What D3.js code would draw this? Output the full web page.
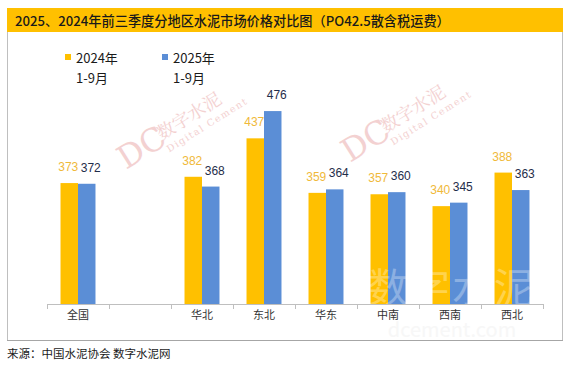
<!DOCTYPE html>
<html><head><meta charset="utf-8">
<script src="https://cdn.jsdelivr.net/npm/d3@7"></script>
<style>body{margin:0;background:#fff;} svg{display:block;font-family:"Noto Sans CJK SC","Noto Sans",sans-serif;}</style>
</head><body>
<svg id="c" width="569" height="365"></svg>
<script>
const categories = ["全国", "", "华北", "东北", "华东", "中南", "西南", "西北"];
const seriesNames = ["2024年\n1-9月", "2025年\n1-9月"];
const values2024 = [373, null, 382, 437, 359, 357, 340, 388];
const values2025 = [372, null, 368, 476, 364, 360, 345, 363];
const titleText = "2025、2024年前三季度分地区水泥市场价格对比图（PO42.5散含税运费）";
const sourceText = "来源：中国水泥协会 数字水泥网";

const svg = d3.select("#c");
const colors = ["#FFC000", "#5B8ED6"];
const labelColors = ["#F0B93A", "#1F2D4A"];

// frame
svg.append("rect").attr("x", 7).attr("y", 8).attr("width", 556).attr("height", 24).attr("fill", "#FFC000");
svg.append("line").attr("x1", 7.5).attr("x2", 7.5).attr("y1", 32).attr("y2", 340).attr("stroke", "#BFBFBF");
svg.append("line").attr("x1", 562.5).attr("x2", 562.5).attr("y1", 32).attr("y2", 340).attr("stroke", "#BFBFBF");
svg.append("line").attr("x1", 7).attr("x2", 563).attr("y1", 340.5).attr("y2", 340.5).attr("stroke", "#A6A6A6");
svg.append("text").attr("x", 15).attr("y", 26).attr("font-size", 13.2).attr("font-weight", 500).attr("fill", "#1a1a1a").text(titleText);

// watermarks
function logo(x, y) {
  const g = svg.append("g").attr("transform", `translate(${x},${y}) rotate(-32)`).attr("fill", "#F2C9C9").attr("opacity", 0.85);
  g.append("text").attr("x", 0).attr("y", 0).attr("font-size", 32).attr("font-family", "DejaVu Serif, serif").text("DC");
  g.append("text").attr("x", 46).attr("y", -6).attr("font-size", 18).attr("font-family", "Noto Serif CJK SC, Noto Sans CJK SC, serif").text("数字水泥");
  g.append("text").attr("x", 46).attr("y", 8).attr("font-size", 9.5).attr("font-family", "DejaVu Serif, serif").attr("letter-spacing", 1.5).text("Digital Cement");
}
logo(126, 170);
logo(350, 163);

const x0 = d3.scaleBand().domain(categories.map((c, i) => i)).range([47, 543]).padding(0);
const x1 = d3.scaleBand().domain([0, 1]).range([x0.bandwidth() * 0.218, x0.bandwidth() * 0.782]).padding(0);
const y = d3.scaleLinear().domain([200, 600]).range([304, 24.4]);

const series = [values2024, values2025];
const dx = [-1, 4];
series.forEach((vals, s) => {
  const data = vals.map((v, i) => ({i, v})).filter(d => d.v != null);
  svg.append("g").selectAll("rect").data(data).join("rect")
    .attr("x", d => x0(d.i) + x1(s)).attr("width", x1.bandwidth())
    .attr("y", d => y(d.v)).attr("height", d => y(200) - y(d.v))
    .attr("fill", colors[s]);
  svg.append("g").selectAll("text").data(data).join("text")
    .attr("x", d => x0(d.i) + x1(s) + x1.bandwidth() / 2 + dx[s])
    .attr("y", d => y(d.v) - 12)
    .attr("text-anchor", "middle").attr("font-size", 12).attr("fill", labelColors[s])
    .attr("font-family", "Liberation Sans, Arial, sans-serif")
    .text(d => d.v);
});

// big watermark overlay
svg.append("text").attr("x", 452).attr("y", 302).attr("text-anchor", "middle").attr("font-size", 40)
  .attr("fill", "#ffffff").attr("opacity", 0.3).attr("letter-spacing", 2).text("数字水泥");
svg.append("text").attr("x", 452).attr("y", 337).attr("text-anchor", "middle").attr("font-size", 20)
  .attr("fill", "#F2F2F2").attr("opacity", 0.6).text("dcement.com");

// axis
const axis = d3.axisBottom(x0).tickSize(0).tickFormat(i => categories[i]);
const ag = svg.append("g").attr("transform", "translate(0,304)").call(axis);
ag.select(".domain").attr("stroke", "#BFBFBF").attr("d", "M47,0.5H543");
ag.selectAll("text").attr("font-size", 11).attr("fill", "#333").attr("dy", "1.1em")
  .attr("font-family", "Noto Sans CJK SC, sans-serif");
const tickPos = categories.map((c, i) => x0(i)).concat([x0(categories.length - 1) + x0.bandwidth()]);
ag.selectAll("line.sep").data(tickPos).join("line").attr("class", "sep")
  .attr("x1", d => Math.round(d) + 0.5).attr("x2", d => Math.round(d) + 0.5).attr("y1", 0).attr("y2", 5).attr("stroke", "#BFBFBF");

// legend
const lg = svg.append("g");
seriesNames.forEach((n, s) => {
  const lx = 65 + s * 97;
  lg.append("rect").attr("x", lx).attr("y", 54).attr("width", 6).attr("height", 6).attr("fill", colors[s]);
  const lines = n.split("\n");
  lines.forEach((t, k) => {
    lg.append("text").attr("x", lx + 11).attr("y", 63 + k * 20).attr("font-size", 13).attr("fill", "#1a1a1a").text(t);
  });
});

svg.append("text").attr("x", 7).attr("y", 358).attr("font-size", 11.5).attr("fill", "#1a1a1a").text(sourceText);
</script>
</body></html>
